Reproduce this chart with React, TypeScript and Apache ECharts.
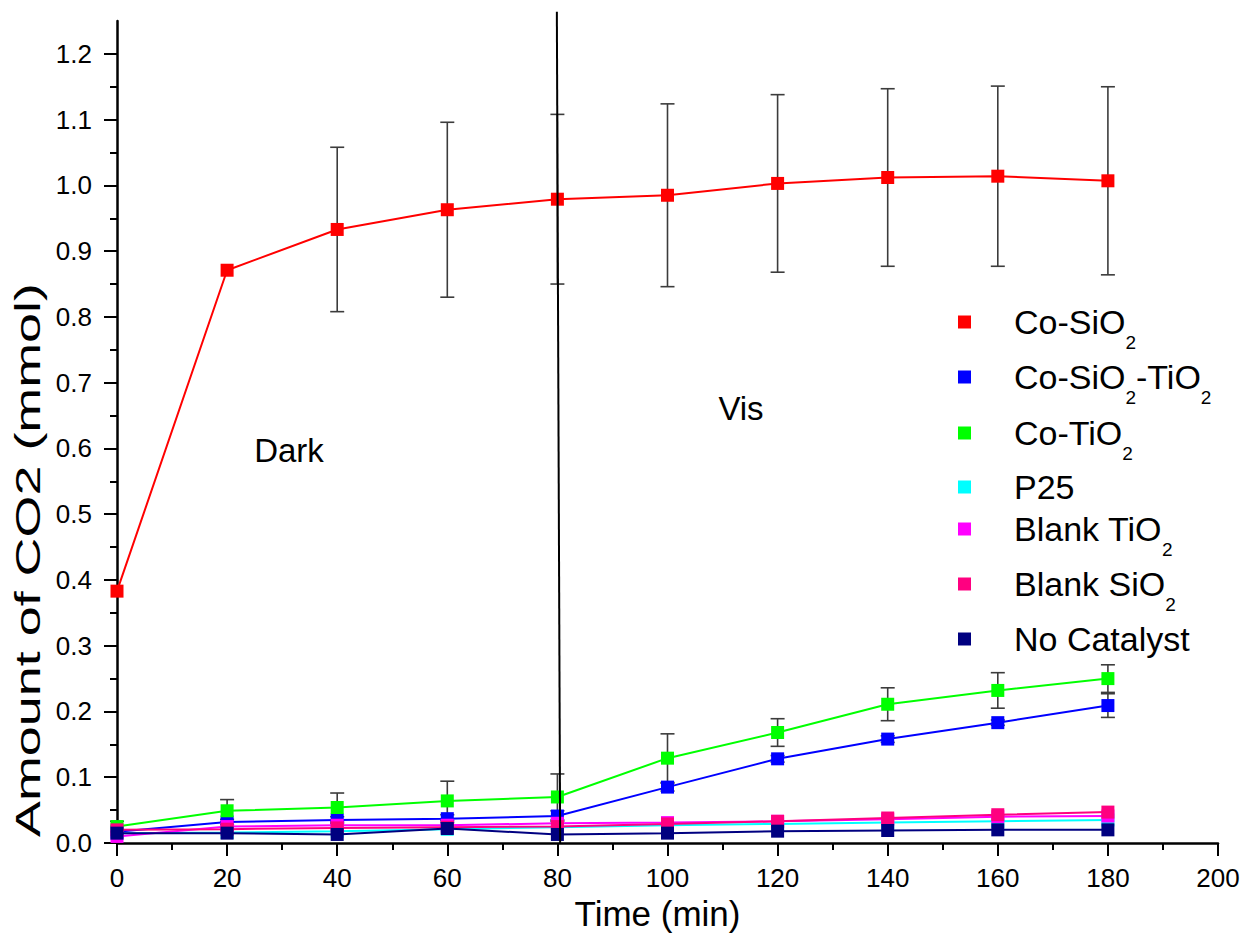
import React, { useEffect, useRef } from 'react';
import * as echarts from 'echarts';

const times = [0, 20, 40, 60, 80, 100, 120, 140, 160, 180];
const coSiO2 = [0.383, 0.871, 0.933, 0.963, 0.979, 0.985, 1.003, 1.012, 1.014, 1.007];
const coSiO2Err = [0, 0, 0.125, 0.133, 0.129, 0.139, 0.135, 0.135, 0.137, 0.143];
const coSiO2TiO2 = [0.017, 0.032, 0.035, 0.037, 0.041, 0.085, 0.128, 0.158, 0.183, 0.209];
const coSiO2TiO2Err = [0, 0.004, 0.005, 0.006, 0.008, 0.006, 0.005, 0.005, 0.004, 0.018];
const coTiO2 = [0.025, 0.049, 0.054, 0.064, 0.07, 0.129, 0.168, 0.211, 0.232, 0.25];
const coTiO2Err = [0.008, 0.017, 0.022, 0.03, 0.035, 0.037, 0.021, 0.025, 0.027, 0.021];
const p25 = [0.015, 0.016, 0.018, 0.021, 0.024, 0.027, 0.029, 0.031, 0.033, 0.035];
const blankTiO2 = [0.01, 0.025, 0.027, 0.027, 0.03, 0.031, 0.033, 0.036, 0.04, 0.041];
const blankSiO2 = [0.02, 0.021, 0.023, 0.024, 0.025, 0.029, 0.033, 0.038, 0.043, 0.047];
const noCatalyst = [0.015, 0.015, 0.013, 0.022, 0.013, 0.015, 0.018, 0.019, 0.02, 0.02];
const dividerLine = [[79.9, 1.264], [80.5, 0]];
const yMajorTicks = [0, 0.1, 0.2, 0.3, 0.4, 0.5, 0.6, 0.7, 0.8, 0.9, 1.0, 1.1, 1.2];

const FONT = 'Arial, "Liberation Sans", sans-serif';

const seriesDefs = [
  { name: 'Co-SiO2', label: '{n|Co-SiO}{s|2}', color: '#FF0000', data: coSiO2, err: coSiO2Err },
  { name: 'Co-SiO2-TiO2', label: '{n|Co-SiO}{s|2}{n|-TiO}{s|2}', color: '#0000FF', data: coSiO2TiO2, err: coSiO2TiO2Err },
  { name: 'Co-TiO2', label: '{n|Co-TiO}{s|2}', color: '#00FF00', data: coTiO2, err: coTiO2Err },
  { name: 'P25', label: '{n|P25}', color: '#00FFFF', data: p25, err: null },
  { name: 'Blank TiO2', label: '{n|Blank TiO}{s|2}', color: '#FF00FF', data: blankTiO2, err: null },
  { name: 'Blank SiO2', label: '{n|Blank SiO}{s|2}', color: '#FF0080', data: blankSiO2, err: null },
  { name: 'No Catalyst', label: '{n|No Catalyst}', color: '#000080', data: noCatalyst, err: null },
];

const legendRowsY = [322, 377, 433, 487, 529, 584, 639];

export default function App() {
  const ref = useRef<HTMLDivElement>(null);
  useEffect(() => {
    document.body.style.margin = '0';
    if (!ref.current) return;
    const chart = echarts.init(ref.current, null, { renderer: 'svg' });

    const series: any[] = [];
    seriesDefs.forEach((d, i) => {
      series.push({
        name: d.name,
        type: 'line',
        data: times.map((t, k) => [t, d.data[k]]),
        symbol: 'rect',
        symbolSize: 13,
        showSymbol: true,
        lineStyle: { color: d.color, width: 2 },
        itemStyle: { color: d.color },
        z: 3 + i * 0.01,
      });
      if (d.err) {
        series.push({
          name: d.name + ' err',
          type: 'custom',
          data: times.map((t, k) => [t, d.data[k], d.err[k]]),
          z: 2,
          silent: true,
          renderItem: (params: any, api: any) => {
            const x = api.value(0);
            const y = api.value(1);
            const e = api.value(2);
            if (!e) return { type: 'group', children: [] };
            const top = api.coord([x, y + e]);
            const bot = api.coord([x, y - e]);
            const st = { stroke: '#3c3c3c', lineWidth: 1.6 };
            return {
              type: 'group',
              children: [
                { type: 'line', shape: { x1: top[0], y1: top[1], x2: bot[0], y2: bot[1] }, style: st },
                { type: 'line', shape: { x1: top[0] - 7, y1: top[1], x2: top[0] + 7, y2: top[1] }, style: st },
                { type: 'line', shape: { x1: bot[0] - 7, y1: bot[1], x2: bot[0] + 7, y2: bot[1] }, style: st },
              ],
            };
          },
        });
      }
    });

    series.push({
      name: 'divider',
      type: 'line',
      data: dividerLine,
      symbol: 'none',
      clip: false,
      lineStyle: { color: '#000', width: 2 },
      z: 10,
      silent: true,
    });

    const rich = {
      n: { fontSize: 34, fontFamily: FONT, color: '#000' },
      s: { fontSize: 19, fontFamily: FONT, color: '#000', lineHeight: 19, padding: [40, 0, 0, 0] },
    };

    const legendGraphics: any[] = [];
    seriesDefs.forEach((d, i) => {
      legendGraphics.push({
        type: 'rect',
        shape: { x: 958, y: legendRowsY[i] - 6.5, width: 13, height: 13 },
        style: { fill: d.color },
      });
      legendGraphics.push({
        type: 'text',
        x: 1014,
        y: legendRowsY[i],
        style: { text: d.label, rich, verticalAlign: 'middle', align: 'left' },
      });
    });

    const option: any = {
      animation: false,
      backgroundColor: '#fff',
      grid: { left: 117, right: 29, top: 21, bottom: 93, containLabel: false },
      xAxis: {
        type: 'value',
        min: 0,
        max: 200,
        interval: 20,
        name: 'Time (min)',
        nameLocation: 'middle',
        nameGap: 50,
        nameTextStyle: { fontSize: 35, fontFamily: FONT, color: '#000', padding: [0, 20, 0, 0] },
        axisLine: { show: true, onZero: false, lineStyle: { color: '#000', width: 2.5 } },
        axisTick: { show: true, inside: false, length: 13, lineStyle: { color: '#000', width: 2 } },
        minorTick: { show: true, splitNumber: 2, length: 7, lineStyle: { color: '#000', width: 2 } },
        axisLabel: { fontSize: 26, fontFamily: FONT, color: '#000', margin: 22 },
        splitLine: { show: false },
        minorSplitLine: { show: false },
      },
      yAxis: {
        type: 'value',
        min: 0,
        max: 1.25,
        interval: 0.1,
        axisLine: { show: true, onZero: false, lineStyle: { color: '#000', width: 2.5 } },
        axisTick: { show: true, inside: false, length: 13, lineStyle: { color: '#000', width: 2 }, customValues: yMajorTicks },
        minorTick: { show: true, splitNumber: 2, length: 7, lineStyle: { color: '#000', width: 2 } },
        axisLabel: {
          fontSize: 26,
          fontFamily: FONT,
          color: '#000',
          margin: 25,
          customValues: yMajorTicks,
          formatter: (v: number) => (Math.abs(v * 10 - Math.round(v * 10)) < 1e-6 ? v.toFixed(1) : ''),
        },
        splitLine: { show: false },
        minorSplitLine: { show: false },
      },
      series,
      graphic: [
        ...legendGraphics,
        {
          type: 'text',
          x: 28,
          y: 560,
          rotation: Math.PI / 2,
          scaleX: 1.54,
          style: {
            text: 'Amount of CO2 (mmol)',
            fontSize: 35,
            fontFamily: FONT,
            fill: '#000',
            align: 'center',
            verticalAlign: 'middle',
          },
        },
        {
          type: 'text',
          x: 289,
          y: 450,
          style: { text: 'Dark', fontSize: 33, fontFamily: FONT, fill: '#000', align: 'center', verticalAlign: 'middle' },
        },
        {
          type: 'text',
          x: 741,
          y: 408,
          style: { text: 'Vis', fontSize: 33, fontFamily: FONT, fill: '#000', align: 'center', verticalAlign: 'middle' },
        },
      ],
    };
    chart.setOption(option);
    return () => chart.dispose();
  }, []);
  return <div ref={ref} style={{ width: 1247, height: 936 }} />;
}
